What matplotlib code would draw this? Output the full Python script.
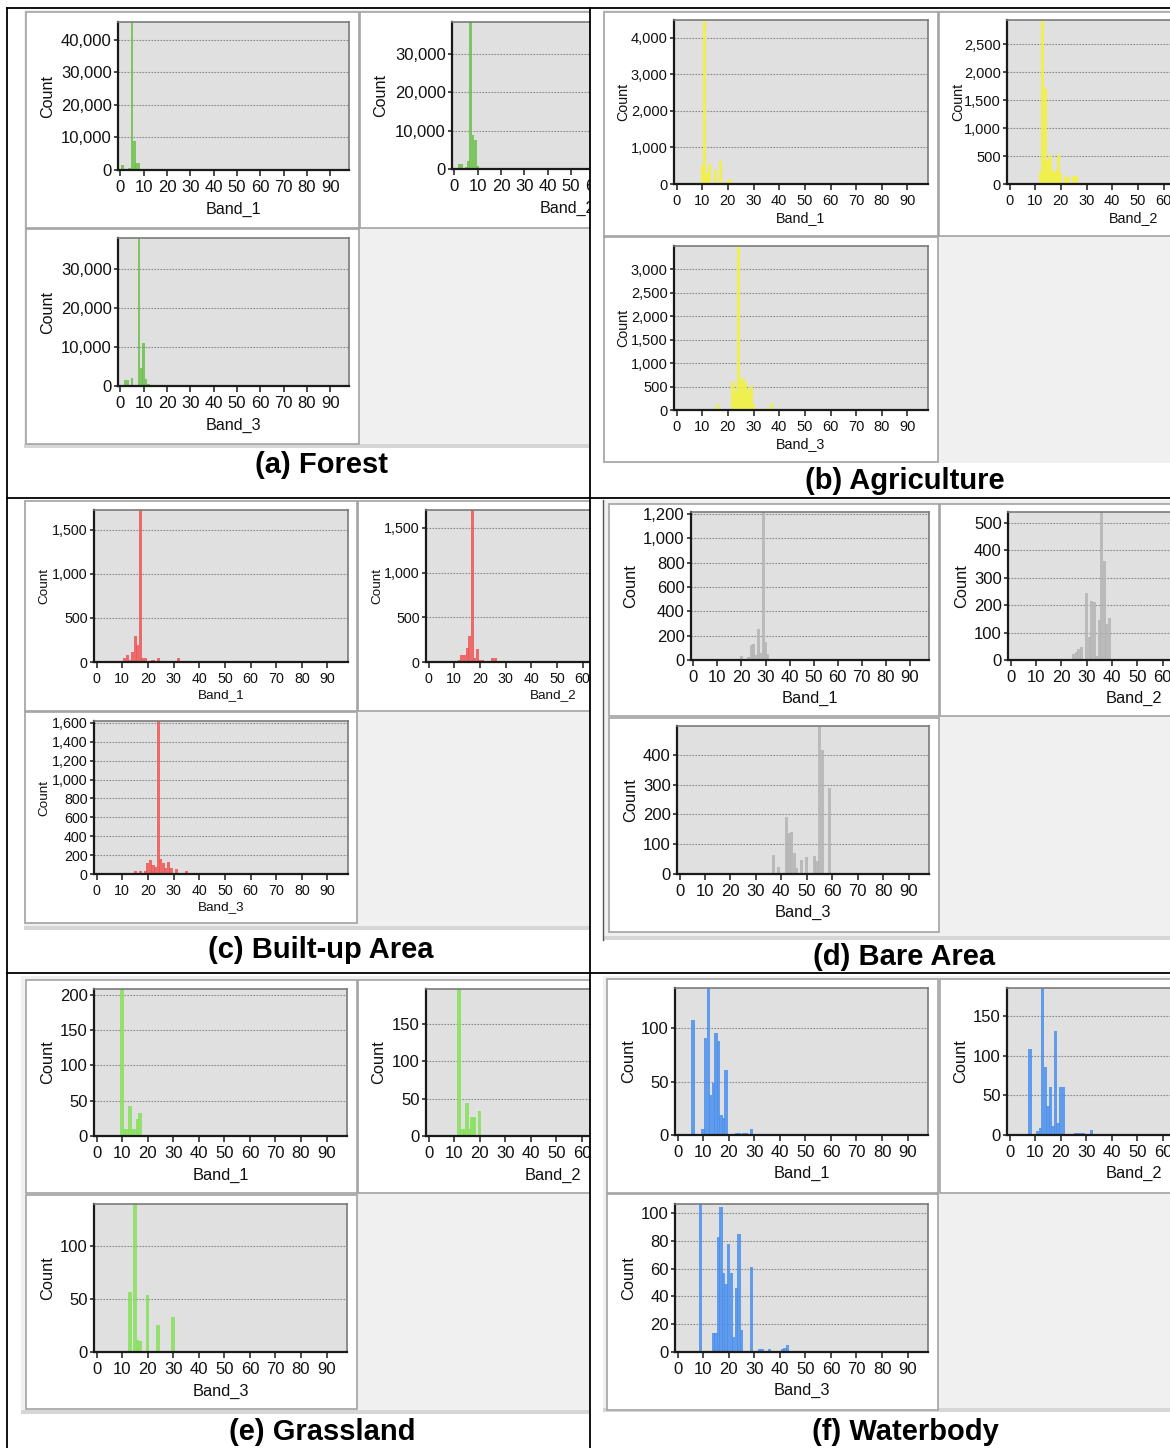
import matplotlib
matplotlib.use('Agg')
import matplotlib.pyplot as plt
from matplotlib.patches import Rectangle
from matplotlib.lines import Line2D
from matplotlib.ticker import FuncFormatter

plt.rcParams['font.family'] = ['Liberation Sans', 'DejaVu Sans']

W, H = 1170, 1448

# histogram values (digital number bin -> pixel count)
FOREST_B1_BINS = [1, 4, 5, 6, 7, 8, 9]
FOREST_B1_COUNTS = [1400, 500, 48000, 9000, 2300, 2000, 300]
FOREST_B2_BINS = [2, 3, 5, 6, 7, 8, 9, 10]
FOREST_B2_COUNTS = [1200, 1200, 500, 2200, 42000, 8800, 7600, 700]
FOREST_B3_BINS = [2, 3, 5, 6, 8, 9, 10, 11, 12]
FOREST_B3_COUNTS = [1600, 1600, 2000, 300, 40000, 4500, 10900, 1700, 500]

AGRI_B1_BINS = [10, 11, 12, 13, 15, 17, 20, 21]
AGRI_B1_COUNTS = [510, 4700, 290, 550, 380, 620, 90, 140]
AGRI_B2_BINS = [11, 12, 13, 14, 15, 16, 17, 18, 19, 20, 22, 23, 25, 26]
AGRI_B2_COUNTS = [20, 220, 3000, 1720, 430, 520, 230, 230, 530, 200, 130, 130, 140, 140]
AGRI_B3_BINS = [16, 22, 23, 24, 25, 26, 27, 28, 29, 30, 35, 37, 40]
AGRI_B3_COUNTS = [120, 600, 400, 3600, 650, 680, 570, 400, 510, 120, 40, 145, 20]

BUILT_B1_BINS = [11, 12, 13, 14, 15, 16, 17, 18, 19, 22, 24, 32]
BUILT_B1_COUNTS = [50, 80, 25, 110, 290, 190, 1800, 40, 40, 25, 40, 40]
BUILT_B2_BINS = [12, 13, 14, 15, 16, 17, 18, 19, 20, 21, 25, 26]
BUILT_B2_COUNTS = [20, 80, 80, 160, 290, 1800, 50, 150, 20, 20, 40, 40]
BUILT_B3_BINS = [15, 17, 19, 20, 21, 22, 23, 24, 25, 26, 27, 28, 29, 31, 35]
BUILT_B3_COUNTS = [28, 28, 30, 120, 150, 100, 70, 1700, 160, 120, 60, 130, 60, 55, 36]

BARE_B1_BINS = [20, 23, 24, 25, 26, 27, 28, 29, 30, 31]
BARE_B1_COUNTS = [36, 25, 125, 130, 40, 255, 60, 1300, 150, 50]
BARE_B2_BINS = [25, 26, 27, 28, 30, 31, 32, 33, 34, 35, 36, 37, 38, 39]
BARE_B2_COUNTS = [22, 28, 40, 48, 245, 85, 215, 210, 15, 145, 560, 360, 130, 152]
BARE_B3_BINS = [37, 39, 42, 43, 44, 45, 46, 48, 50, 53, 54, 55, 56, 59]
BARE_B3_COUNTS = [65, 22, 190, 138, 142, 70, 20, 48, 58, 62, 42, 520, 415, 290]

GRASS_B1_BINS = [10, 11, 12, 13, 14, 15, 16, 17]
GRASS_B1_COUNTS = [220, 10, 10, 43, 10, 10, 24, 33]
GRASS_B2_BINS = [12, 13, 14, 15, 16, 17, 18, 20]
GRASS_B2_COUNTS = [200, 9, 9, 44, 10, 25, 25, 33]
GRASS_B3_BINS = [13, 15, 16, 17, 20, 24, 30]
GRASS_B3_COUNTS = [57, 150, 11, 10, 54, 26, 33]

WATER_B1_BINS = [6, 10, 11, 12, 13, 14, 15, 16, 17, 18, 19, 20, 21, 23, 24, 26, 27, 29]
WATER_B1_COUNTS = [108, 6, 91, 145, 38, 49, 96, 88, 19, 16, 61, 1, 1, 2, 2, 2, 2, 6]
WATER_B2_BINS = [8, 11, 12, 13, 14, 15, 16, 17, 18, 19, 20, 21, 24, 25, 26, 27, 28, 29, 32]
WATER_B2_COUNTS = [108, 5, 9, 190, 86, 37, 60, 11, 131, 15, 60, 60, 1, 1, 2, 2, 2, 2, 6]
WATER_B3_BINS = [9, 14, 15, 16, 17, 18, 19, 20, 21, 22, 23, 24, 25, 29, 32, 33, 35, 36, 41, 42, 43]
WATER_B3_COUNTS = [110, 14, 14, 83, 104, 57, 49, 78, 57, 11, 46, 85, 16, 61, 2, 2, 1, 2, 2, 3, 5]

BAND_NAMES = ['Band_1', 'Band_2', 'Band_3']
X_TICKS = list(range(0, 91, 10))


def fig_rect(fig, x0, y0, x1, y1, face, edge='none', lw=0, z=1):
    fig.add_artist(Rectangle((x0 / W, 1 - y1 / H), (x1 - x0) / W, (y1 - y0) / H,
                             transform=fig.transFigure, facecolor=face,
                             edgecolor=edge, linewidth=lw, zorder=z))


def fig_line(fig, xs, ys, color='black', lw=1.3, z=10):
    fig.add_artist(Line2D([x / W for x in xs], [1 - y / H for y in ys],
                          transform=fig.transFigure, color=color, linewidth=lw, zorder=z))


def histogram(fig, rect, bins, counts, color, ymax, yticks, band, cell, ylab_off, z):
    x0, y0, x1, y1 = rect
    ax = fig.add_axes([x0 / W, 1 - y1 / H, (x1 - x0) / W, (y1 - y0) / H])
    ax.set_zorder(z)
    ax.set_facecolor('#e0e0e0')
    ax.bar(bins, counts, width=cell['bw'], color=color, alpha=0.85, linewidth=0)
    ax.set_xlim(-1, 98)
    ax.set_ylim(0, ymax)
    ax.set_xticks(X_TICKS)
    ax.set_yticks(yticks)
    ax.yaxis.set_major_formatter(FuncFormatter(lambda v, p: f'{v:,.0f}'))
    ax.set_axisbelow(True)
    ax.yaxis.grid(True, color='#8a8a8a', linestyle=(0, (1.5, 1.2)), linewidth=0.8)
    for s in ax.spines.values():
        s.set_color('#7a7a7a')
        s.set_linewidth(1.2)
    for s in ('left', 'bottom'):
        ax.spines[s].set_color('#1a1a1a')
        ax.spines[s].set_linewidth(1.6)
    ax.tick_params(axis='both', direction='out', color='#1a1a1a', width=1.1,
                   labelsize=cell['fs'], labelcolor='#111111')
    ax.tick_params(axis='x', length=4, pad=3.2)
    ax.tick_params(axis='y', length=3, pad=1.5)
    ax.set_xlabel(band, fontsize=cell['lab'], color='#111111')
    ax.xaxis.set_label_coords(0.5, -cell['xl'] / (y1 - y0))
    ax.xaxis.label.set_va('center')
    ax.set_ylabel('Count', fontsize=cell['lab'], color='#111111')
    ax.yaxis.set_label_coords(ylab_off / (x1 - x0), 0.5)
    ax.yaxis.label.set_va('center')
    return ax


CELLS = [
    dict(title='(a) Forest', cap=(321, 465), color='#6dbf4b', bg=(24, 10, 589, 448), strip=True,
         boxes=[(26, 12, 359, 228), (360, 12, 600, 228), (26, 229, 359, 444)],
         axes=[(118, 22, 349, 170), (452, 22, 683, 169), (118, 238, 349, 386)],
         ylab=[-70, -71, -70], ymax=[45500, 38400, 37900],
         yticks=[range(0, 40001, 10000), range(0, 30001, 10000), range(0, 30001, 10000)],
         data=[(FOREST_B1_BINS, FOREST_B1_COUNTS), (FOREST_B2_BINS, FOREST_B2_COUNTS),
               (FOREST_B3_BINS, FOREST_B3_COUNTS)],
         fs=12, lab=11.6, xl=39, bw=1.2, right=False),
    dict(title='(b) Agriculture', cap=(905, 481), color='#f2f23c', bg=(603, 10, 1170, 463), strip=False,
         boxes=[(604, 12, 938, 236), (939, 12, 1175, 236), (604, 237, 938, 462)],
         axes=[(674, 20, 928, 184), (1007, 20, 1261, 184), (674, 246, 928, 410)],
         ylab=[-51, -49, -51], ymax=[4490, 2930, 3490],
         yticks=[range(0, 4001, 1000), range(0, 2501, 500), range(0, 3001, 500)],
         data=[(AGRI_B1_BINS, AGRI_B1_COUNTS), (AGRI_B2_BINS, AGRI_B2_COUNTS),
               (AGRI_B3_BINS, AGRI_B3_COUNTS)],
         fs=10.5, lab=10.3, xl=34, bw=1.2, right=True),
    dict(title='(c) Built-up Area', cap=(321, 950), color='#f05555', bg=(24, 500, 589, 930), strip=True,
         boxes=[(25, 501, 357, 711), (358, 501, 600, 711), (25, 712, 357, 923)],
         axes=[(94, 510, 348, 662), (426, 510, 680, 662), (94, 721, 348, 874)],
         ylab=[-50, -49, -50], ymax=[1727, 1700, 1620],
         yticks=[range(0, 1501, 500), range(0, 1501, 500), range(0, 1601, 200)],
         data=[(BUILT_B1_BINS, BUILT_B1_COUNTS), (BUILT_B2_BINS, BUILT_B2_COUNTS),
               (BUILT_B3_BINS, BUILT_B3_COUNTS)],
         fs=10.3, lab=9.7, xl=33, bw=1.2, right=False),
    dict(title='(d) Bare Area', cap=(904, 957), color='#b4b4b4', bg=(603, 500, 1170, 940), strip=True,
         boxes=[(609, 504, 939, 716), (940, 504, 1175, 716), (609, 718, 939, 932)],
         axes=[(691, 512, 929, 660), (1008, 512, 1259, 660), (677, 726, 929, 874)],
         ylab=[-60, -46, -46], ymax=[1218, 540, 497],
         yticks=[range(0, 1201, 200), range(0, 501, 100), range(0, 401, 100)],
         data=[(BARE_B1_BINS, BARE_B1_COUNTS), (BARE_B2_BINS, BARE_B2_COUNTS),
               (BARE_B3_BINS, BARE_B3_COUNTS)],
         fs=12, lab=11.8, xl=38, bw=1.2, right=True),
    dict(title='(e) Grassland', cap=(322, 1432), color='#86e05a', bg=(21, 976, 589, 1414), strip=True,
         boxes=[(26, 980, 357, 1193), (358, 980, 600, 1193), (26, 1195, 357, 1409)],
         axes=[(94, 989, 347, 1136), (426, 989, 679, 1136), (94, 1204, 347, 1352)],
         ylab=[-46, -47, -46], ymax=[208, 197, 140],
         yticks=[range(0, 201, 50), range(0, 151, 50), range(0, 101, 50)],
         data=[(GRASS_B1_BINS, GRASS_B1_COUNTS), (GRASS_B2_BINS, GRASS_B2_COUNTS),
               (GRASS_B3_BINS, GRASS_B3_COUNTS)],
         fs=12, lab=11.8, xl=39, bw=1.4, right=False),
    dict(title='(f) Waterbody', cap=(905, 1432), color='#4a90ee', bg=(603, 976, 1170, 1412), strip=True,
         boxes=[(607, 979, 938, 1193), (940, 979, 1175, 1193), (607, 1194, 938, 1410)],
         axes=[(675, 988, 928, 1135), (1007, 988, 1260, 1135), (675, 1204, 928, 1352)],
         ylab=[-46, -46, -46], ymax=[138, 185, 106.5],
         yticks=[range(0, 101, 50), range(0, 151, 50), range(0, 101, 20)],
         data=[(WATER_B1_BINS, WATER_B1_COUNTS), (WATER_B2_BINS, WATER_B2_COUNTS),
               (WATER_B3_BINS, WATER_B3_COUNTS)],
         fs=12, lab=11.8, xl=38, bw=1.3, right=True),
]


def main():
    fig = plt.figure(figsize=(W / 100, H / 100), dpi=100)
    fig.patch.set_facecolor('white')

    # white cover for the right column so left panels get cut at the table line
    fig_rect(fig, 589.5, 0, W + 5, H, 'white', z=4)

    for cell in CELLS:
        base = 5 if cell['right'] else 1
        x0, y0, x1, y1 = cell['bg']
        fig_rect(fig, x0, y0, x1, y1, '#f0f0f0', z=base)
        if cell['strip']:
            fig_rect(fig, x0, y1 - 4, x1, y1, '#d6d6d6', z=base)
        for b in cell['boxes']:
            fig_rect(fig, *b, 'white', edge='#a3a3a3', lw=1.2, z=base + 1)
        for i in range(3):
            bins, counts = cell['data'][i]
            histogram(fig, cell['axes'][i], bins, counts, cell['color'], cell['ymax'][i],
                      list(cell['yticks'][i]), BAND_NAMES[i], cell, cell['ylab'][i], base + 2)
        cx, cy = cell['cap']
        fig.text(cx / W, 1 - cy / H, cell['title'], ha='center', va='center',
                 fontsize=21, fontweight='bold', color='black', zorder=10)

    # dark edge on the bare area screenshot
    fig_line(fig, [603, 603], [500, 940], color='#555555', lw=1.0)

    # table grid
    fig_line(fig, [7, W], [8, 8])
    fig_line(fig, [7, W], [498, 498])
    fig_line(fig, [7, W], [973, 973])
    fig_line(fig, [7, 7], [8, H])
    fig_line(fig, [589.5, 589.5], [8, H])

    fig.savefig('out.png', dpi=100)


if __name__ == '__main__':
    main()
